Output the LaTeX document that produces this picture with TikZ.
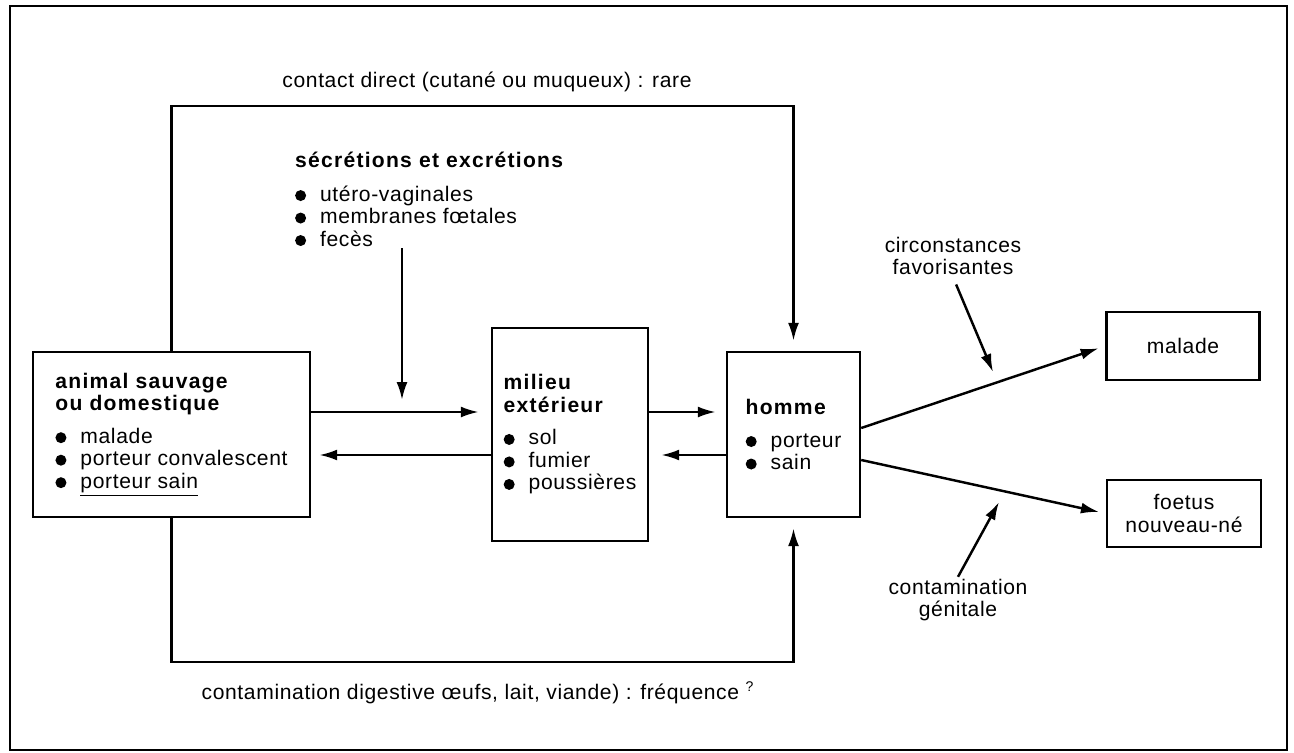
\documentclass[tikz,border=0pt]{standalone}
\usepackage{fontspec}
\setmainfont{Liberation Sans}[LetterSpace=3]
\usetikzlibrary{arrows.meta}
\newcommand{\itm}{\makebox[0.5cm][l]{\tikz[baseline=0pt]\fill (0.1cm,0.11cm) circle (0.11cm);}}
\newcommand{\hd}[1]{{\bfseries\addfontfeature{LetterSpace=6}#1}}

\begin{document}
\begin{tikzpicture}[
  x=0.02cm, y=-0.02cm,
  font=\fontsize{12pt}{12.8pt}\selectfont,
  box/.style={draw, line width=1.4pt, align=left, inner xsep=0pt},
  lbl/.style={align=center, inner sep=1pt},
  arr/.style={line width=1.4pt, -{Latex[length=3.6mm,width=2.2mm]}},
  frame/.style={line width=0.7pt}
]
\useasboundingbox (0,0) rectangle (1294,753);
\draw[frame] (10,6) rectangle (1287,750);

% boxes
\node[box, minimum width=5.54cm, minimum height=3.3cm] (anim) at (171.5,434.5)
  {\hd{animal sauvage}\\\hd{ou domestique}\\[0.2cm]
   \itm malade\\\itm porteur convalescent\\\itm \underline{porteur sain}};
\node[box, minimum width=3.12cm, minimum height=4.26cm] (mil) at (570,434.5)
  {\hd{milieu}\\\hd{extérieur}\\[0.2cm]
   \itm sol\\\itm fumier\\\itm poussières};
\node[box, minimum width=2.66cm, minimum height=3.3cm] (hom) at (793.5,434.5)
  {\hd{homme}\\[0.2cm]\itm porteur\\\itm sain};
\node[box, align=center, minimum width=3.06cm, minimum height=1.36cm] (mal) at (1183,346) {malade};
\node[box, align=center, minimum width=3.08cm, minimum height=1.34cm] (foe) at (1184,513.5) {foetus\\nouveau-né};

% texts
\node[lbl, align=left, anchor=north west] (secr) at (293,150)
  {\hd{sécrétions et excrétions}\\[0.22cm]
   \itm utéro-vaginales\\\itm membranes fœtales\\\itm fecès};
\node[lbl] (direct) at (487,82) {contact direct (cutané ou muqueux) : rare};
\node[lbl] (dig) at (478,693) {contamination digestive œufs, lait, viande) : fréquence \textsuperscript{?}};
\node[lbl] (circ) at (953,256) {circonstances\\favorisantes};
\node[lbl] (gen) at (958,600) {contamination\\génitale};
\coordinate (secrTip) at (402,400);
\coordinate (circTip) at (993,372);
\coordinate (genTip) at (999,502);

% loops
\draw[arr, shorten >=0.2cm] (anim.north) -- ++(0,-245) -| (hom.north);
\draw[arr, shorten >=0.2cm] (anim.south) -- ++(0,144) -| (hom.south);
\draw[arr] (secrTip |- secr.south) -- (secrTip);

% exchanges
\draw[arr, shorten >=0.24cm] ([yshift=0.45cm]anim.east) -- ([yshift=0.45cm]mil.west);
\draw[arr, shorten >=0.16cm] ([yshift=-0.41cm]mil.west) -- ([yshift=-0.41cm]anim.east);
\draw[arr, shorten >=0.2cm] ([yshift=0.45cm]mil.east) -- ([yshift=0.45cm]hom.west);
\draw[arr, shorten >=0.24cm] ([yshift=-0.41cm]hom.west) -- ([yshift=-0.41cm]mil.east);

% outcomes
\draw[arr, shorten >=0.14cm] ([yshift=0.13cm]hom.east) -- (mal.west);
\draw[arr, shorten >=0.14cm] ([yshift=-0.51cm]hom.east) -- (foe.west);
\draw[arr, shorten <=0.16cm] (circ.south) -- (circTip);
\draw[arr] (gen.north) -- (genTip);

\end{tikzpicture}
\end{document}
